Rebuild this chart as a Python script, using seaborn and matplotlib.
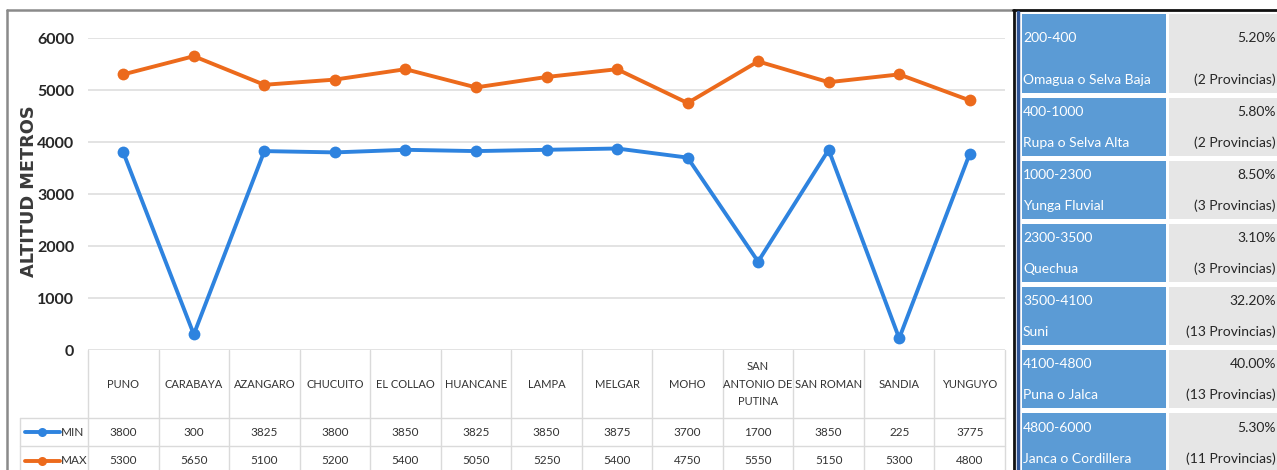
import numpy as np
import pandas as pd
import matplotlib
matplotlib.use("Agg")
import matplotlib.pyplot as plt
import seaborn as sns
from matplotlib.lines import Line2D
from matplotlib.patches import Rectangle
from matplotlib.transforms import blended_transform_factory

# Datos: altitud minima y maxima por provincia (Puno)
provincias = ["PUNO", "CARABAYA", "AZANGARO", "CHUCUITO", "EL COLLAO", "HUANCANE",
              "LAMPA", "MELGAR", "MOHO", "SAN\nANTONIO DE\nPUTINA", "SAN ROMAN",
              "SANDIA", "YUNGUYO"]
alt_min = [3800, 300, 3825, 3800, 3850, 3825, 3850, 3875, 3700, 1700, 3850, 225, 3775]
alt_max = [5300, 5650, 5100, 5200, 5400, 5050, 5250, 5400, 4750, 5550, 5150, 5300, 4800]
y_ticks = [0, 1000, 2000, 3000, 4000, 5000, 6000]

# Tabla de pisos altitudinales
rangos = ["200-400", "400-1000", "1000-2300", "2300-3500", "3500-4100", "4100-4800", "4800-6000"]
regiones = ["Omagua o Selva Baja", "Rupa o Selva Alta", "Yunga Fluvial", "Quechua",
            "Suni", "Puna o Jalca", "Janca o Cordillera"]
porcentajes = ["5.20%", "5.80%", "8.50%", "3.10%", "32.20%", "40.00%", "5.30%"]
provs = ["(2 Provincias)", "(2 Provincias)", "(3 Provincias)", "(3 Provincias)",
         "(13 Provincias)", "(13 Provincias)", "(11 Provincias)"]

AZUL = "#2E83DF"
NARANJA = "#EC6A1C"
W, H = 1277, 470

sns.set_theme(style="white")
plt.rcParams["font.family"] = ["Lato", "DejaVu Sans"]

def fx(px):
    return px / W

def fy(py):
    return 1 - py / H

fig = plt.figure(figsize=(W / 100, H / 100), dpi=100)
ax = fig.add_axes([fx(88), fy(350), fx(1005) - fx(88), fy(38) - fy(350)])

df = pd.DataFrame({
    "idx": list(range(len(provincias))) * 2,
    "valor": alt_min + alt_max,
    "serie": ["MIN"] * len(provincias) + ["MAX"] * len(provincias),
})
sns.lineplot(data=df, x="idx", y="valor", hue="serie", palette={"MIN": AZUL, "MAX": NARANJA},
             marker="o", markersize=8.5, markeredgewidth=0, linewidth=2.8, legend=False,
             sort=False, ax=ax, zorder=3)

ax.set_xlim(-0.5, len(provincias) - 0.5)
ax.set_ylim(0, 6000)
ax.set_yticks(y_ticks)
ax.set_yticklabels([str(t) for t in y_ticks], fontsize=11.5, fontweight="bold", color="#262626")
ax.tick_params(axis="y", length=0, pad=10)
ax.set_xticks([])
ax.set_xlabel("")
for s in ax.spines.values():
    s.set_visible(False)
ax.grid(axis="y", color="#E0E0E0", linewidth=1.3)
ax.set_ylabel("ALTITUD METROS", fontsize=12.8, fontweight="bold", color="#3A3A3A",
              family=["DejaVu Sans"])
ax.yaxis.set_label_coords(-0.0545, 0.51)

# Tabla de datos bajo el grafico
tr = blended_transform_factory(ax.transData, fig.transFigure)
grid_c = "#DADADA"
bordes = np.arange(len(provincias) + 1) - 0.5
for b in bordes:
    fig.add_artist(Line2D([b, b], [fy(350), fy(470)], transform=tr, color=grid_c, lw=1))
for py in (418, 446):
    fig.add_artist(Line2D([fx(20), fx(1005)], [fy(py), fy(py)], transform=fig.transFigure,
                          color=grid_c, lw=1))
fig.add_artist(Line2D([fx(20), fx(20)], [fy(418), fy(470)], transform=fig.transFigure,
                      color=grid_c, lw=1))

for i, nombre in enumerate(provincias):
    fig.text(i, fy(384), nombre, transform=tr, ha="center", va="center", fontsize=8,
             color="#333333", linespacing=1.7)
    fig.text(i, fy(432), str(alt_min[i]), transform=tr, ha="center", va="center",
             fontsize=8.5, color="#333333")
    fig.text(i, fy(461), str(alt_max[i]), transform=tr, ha="center", va="center",
             fontsize=8.5, color="#333333")

for py, serie, col in ((432, "MIN", AZUL), (461, "MAX", NARANJA)):
    fig.add_artist(Line2D([fx(25), fx(60)], [fy(py), fy(py)], transform=fig.transFigure,
                          color=col, lw=2.8))
    fig.add_artist(Line2D([fx(42)], [fy(py)], transform=fig.transFigure, color=col,
                          marker="o", markersize=6.5, markeredgewidth=0))
    fig.text(fx(61), fy(py), serie, ha="left", va="center", fontsize=8.5, color="#333333")

# Marco del panel izquierdo
fig.add_artist(Line2D([fx(7), fx(1012)], [fy(10), fy(10)], transform=fig.transFigure,
                      color="#8A8A8A", lw=1.8))
fig.add_artist(Line2D([fx(7), fx(7)], [fy(10), fy(470)], transform=fig.transFigure,
                      color="#8A8A8A", lw=1.8))

# Panel derecho: pisos altitudinales
fig.add_artist(Line2D([fx(1014), fx(1014)], [fy(10), fy(470)], transform=fig.transFigure,
                      color="#111111", lw=2))
fig.add_artist(Line2D([fx(1013), fx(1277)], [fy(10), fy(10)], transform=fig.transFigure,
                      color="#111111", lw=2))
fig.add_artist(Line2D([fx(1018), fx(1018)], [fy(12), fy(470)], transform=fig.transFigure,
                      color="#2F5597", lw=2.5))

tops = [14, 98, 161, 224, 287, 350, 413]
bots = [93, 156, 219, 282, 345, 408, 472]
for k in range(len(rangos)):
    t, b = tops[k], bots[k]
    fig.add_artist(Rectangle((fx(1022), fy(b)), fx(1166) - fx(1022), fy(t) - fy(b),
                             transform=fig.transFigure, color="#5B9BD5", lw=0))
    fig.add_artist(Rectangle((fx(1169), fy(b)), fx(1290) - fx(1169), fy(t) - fy(b),
                             transform=fig.transFigure, color="#E6E6E6", lw=0))
    y1 = t + (b - t - 30) / 2
    y2 = b - 13
    fig.text(fx(1023), fy(y1), rangos[k], ha="left", va="center", fontsize=10, color="white")
    fig.text(fx(1023), fy(y2), regiones[k], ha="left", va="center", fontsize=10, color="white")
    fig.text(fx(1276), fy(y1), porcentajes[k], ha="right", va="center", fontsize=10,
             color="#262626")
    fig.text(fx(1276), fy(y2), provs[k], ha="right", va="center", fontsize=10,
             color="#262626")

fig.savefig("out.png", dpi=100)
